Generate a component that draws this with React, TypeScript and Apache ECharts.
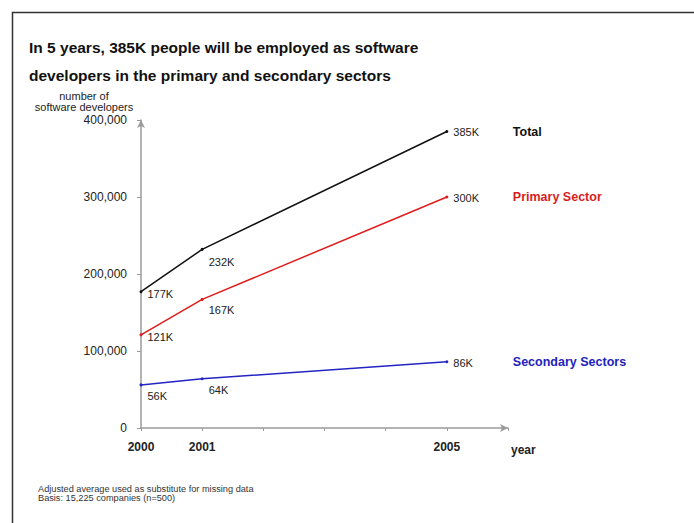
import React, { useEffect, useRef } from "react";
import * as echarts from "echarts";

const years = [2000, 2001, 2005];
const totalValues = [177000, 232000, 385000];
const primaryValues = [121000, 167000, 300000];
const secondaryValues = [56000, 64000, 86000];
const totalLabels = ["177K", "232K", "385K"];
const primaryLabels = ["121K", "167K", "300K"];
const secondaryLabels = ["56K", "64K", "86K"];
const seriesNames = ["Total", "Primary Sector", "Secondary Sectors"];
const shownYears = [2000, 2001, 2005];
const titleLines = [
  "In 5 years, 385K people will be employed as software",
  "developers in the primary and secondary sectors",
];
const yAxisTitle = ["number of", "software developers"];
const footnotes = [
  "Adjusted average used as substitute for missing data",
  "Basis: 15,225 companies (n=500)",
];

const FONT = "Liberation Sans, Arial, sans-serif";

function makeData(values: number[], labels: string[], offsets: number[][]) {
  return values.map((v, i) => ({
    value: [years[i], v],
    label: {
      show: true,
      position: "right",
      distance: 5,
      offset: offsets[i],
      formatter: labels[i],
      color: "#222",
      fontSize: 11,
      fontFamily: FONT,
    },
  }));
}

export default function App() {
  const ref = useRef<HTMLDivElement>(null);
  useEffect(() => {
    if (!ref.current) return;
    const chart = echarts.init(ref.current, null, { renderer: "svg" });
    const colors = ["#111111", "#e01b1b", "#2424c4"];
    const nameColors = ["#111111", "#d81e1e", "#2222bb"];
    const datasets = [
      makeData(totalValues, totalLabels, [[0, 2], [0, 13], [0, 0]]),
      makeData(primaryValues, primaryLabels, [[0, 2], [0, 11], [0, 1]]),
      makeData(secondaryValues, secondaryLabels, [[0, 11], [0, 11], [0, 1]]),
    ];
    chart.setOption({
      animation: false,
      backgroundColor: "#ffffff",
      grid: { left: 141, top: 120, width: 367, height: 308, containLabel: false },
      xAxis: {
        type: "value",
        min: 2000,
        max: 2006,
        interval: 1,
        name: "year",
        nameLocation: "end",
        nameGap: 3,
        nameTextStyle: {
          color: "#222",
          fontSize: 12,
          fontWeight: "bold",
          fontFamily: FONT,
          verticalAlign: "top",
          padding: [16, 0, 0, 0],
        },
        axisLine: {
          lineStyle: { color: "#9a9a9a", width: 1.5 },
          symbol: ["none", "arrow"],
          symbolSize: [6, 8],
        },
        axisTick: { show: true, length: 3, inside: false, lineStyle: { color: "#9a9a9a" } },
        axisLabel: {
          margin: 13,
          color: "#222",
          fontSize: 12,
          fontWeight: "bold",
          fontFamily: FONT,
          showMaxLabel: true,
          formatter: (v: number) => (shownYears.includes(v) ? String(v) : ""),
        },
        splitLine: { show: false },
      },
      yAxis: {
        type: "value",
        min: 0,
        max: 400000,
        interval: 100000,
        axisLine: {
          show: true,
          lineStyle: { color: "#9a9a9a", width: 1.5 },
          symbol: ["none", "arrow"],
          symbolSize: [6, 8],
        },
        axisTick: { show: true, length: 4, lineStyle: { color: "#9a9a9a" } },
        axisLabel: {
          margin: 14,
          color: "#222",
          fontSize: 12,
          fontFamily: FONT,
          formatter: (v: number) => v.toLocaleString("en-US"),
        },
        splitLine: { show: false },
      },
      series: datasets.map((d, i) => ({
        type: "line",
        name: seriesNames[i],
        data: d,
        symbol: "circle",
        symbolSize: 3,
        lineStyle: { color: colors[i], width: 1.5 },
        itemStyle: { color: colors[i] },
        endLabel: {
          show: true,
          distance: 66,
          formatter: seriesNames[i],
          color: nameColors[i],
          fontSize: 12.5,
          fontWeight: "bold",
          fontFamily: FONT,
        },
      })),
      graphic: [
        {
          type: "rect",
          shape: { x: 12.5, y: 12.5, width: 800, height: 600 },
          style: { fill: "none", stroke: "#333", lineWidth: 1.5 },
          silent: true,
        },
        {
          type: "text",
          left: 29,
          top: 33,
          style: {
            text: titleLines.join("\n"),
            font: `bold 15.5px ${FONT}`,
            lineHeight: 28,
            fill: "#111",
          },
        },
        {
          type: "text",
          x: 84,
          y: 90,
          style: {
            text: yAxisTitle.join("\n"),
            font: `11px ${FONT}`,
            lineHeight: 11,
            align: "center",
            fill: "#222",
          },
        },
        {
          type: "text",
          x: 38,
          y: 484,
          style: {
            text: footnotes.join("\n"),
            font: `9.2px ${FONT}`,
            lineHeight: 9,
            fill: "#333",
          },
        },
      ],
    });
    return () => chart.dispose();
  }, []);
  return (
    <div
      ref={ref}
      style={{ position: "fixed", left: 0, top: 0, width: 694, height: 523 }}
    />
  );
}
